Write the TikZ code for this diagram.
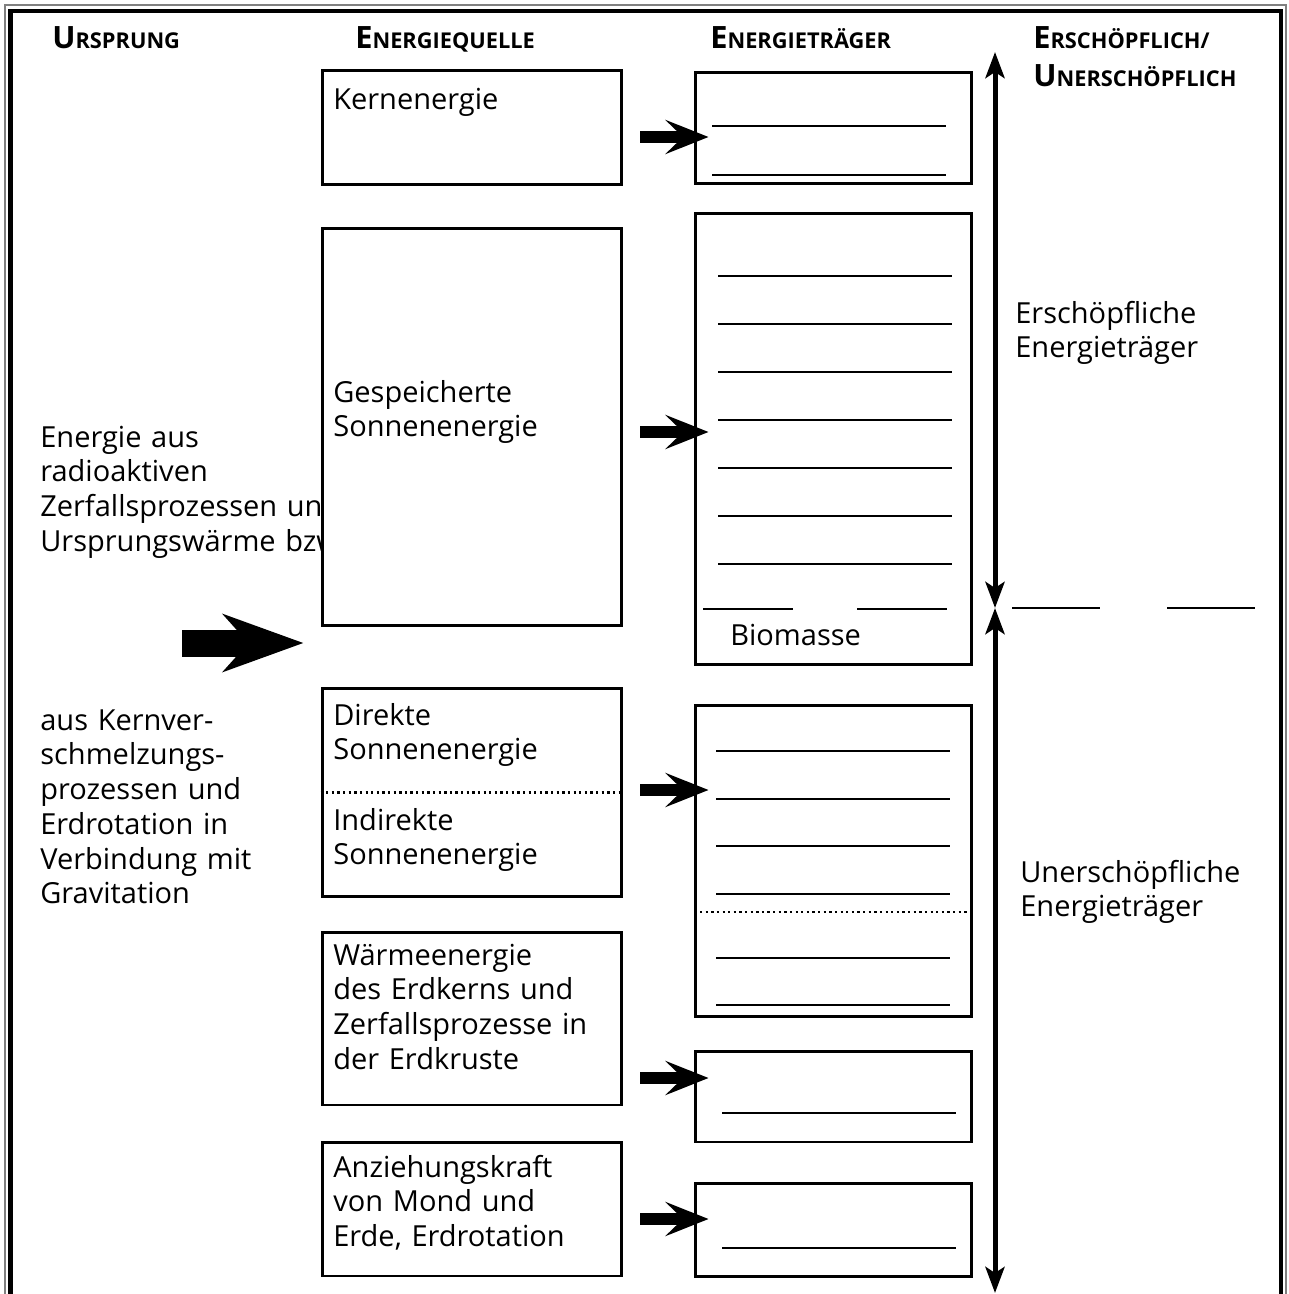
\documentclass[tikz,border=0pt]{standalone}
\usepackage{fontspec}
\setmainfont{Open Sans}
\usetikzlibrary{arrows.meta}
\newcommand\kopf[2]{{\fontsize{17.5}{22}\selectfont\bfseries #1}{\fontsize{12.4}{22}\selectfont\bfseries #2}}

\begin{document}
\begin{tikzpicture}[x=0.02cm,y=-0.02cm,
    txt/.style={anchor=base west,inner sep=0,align=left,text width=7.5cm,font=\fontsize{16.5}{19.8}\selectfont},
    hdr/.style={anchor=base west,inner sep=0,align=left,text width=5.5cm,font=\fontsize{12.4}{21.5}\selectfont},
    qbox/.style={draw,line width=1.7pt,fill=white,minimum width=6cm,inner sep=0},
    tbox/.style={draw,line width=1.7pt,fill=white,minimum width=5.54cm,inner sep=0},
    blank/.style={line width=1.4pt},
    punkte/.style={line width=1.3pt,dash pattern=on 1.3pt off 1.9pt},
    pfeil/.style={line width=0.23cm,-{Stealth[length=0.86cm,width=0.68cm,inset=0.35cm]}},
    grosspfeil/.style={line width=0.54cm,-{Stealth[length=1.6cm,width=1.14cm,inset=0.5cm]}},
    achse/.style={line width=0.1cm,arrows={Stealth[length=0.52cm,width=0.38cm,inset=0.12cm]-Stealth[length=0.52cm,width=0.38cm,inset=0.12cm]}}]
  \useasboundingbox (0,0) rectangle (1288,1294);

  % Rahmen
  \draw[line width=0.6pt,gray] (5,1294) -- (5,5) -- (1286,5) -- (1286,1294);
  \draw[line width=0.09cm] (10.5,1294) -- (10.5,11) -- (1281,11) -- (1281,1294);

  % Spaltenkoepfe
  \node[hdr] (ursprung) at (52,49) {\kopf{U}{RSPRUNG}};
  \node[hdr] (quelle) at (355,49) {\kopf{E}{NERGIEQUELLE}};
  \node[hdr] (traeger) at (710,49) {\kopf{E}{NERGIETRÄGER}};
  \node[hdr] (erschoepf) at (1033,49) {\kopf{E}{RSCHÖPFLICH/}\\\kopf{U}{NERSCHÖPFLICH}};

  % Ursprung
  \node[txt] (ursA) at (40,447) {Energie aus\\radioaktiven\\Zerfallsprozessen und\\Ursprungswärme bzw.};
  \node[txt] (ursB) at (40,730) {aus Kernver-\\schmelzungs-\\prozessen und\\Erdrotation in\\Verbindung mit\\Gravitation};
  \coordinate (gross) at (182,643);

  % Energiequellen
  \node[qbox,minimum height=2.3cm] (kern) at (472,127.5) {};
  \node[qbox,minimum height=7.96cm] (gesp) at (472,427) {};
  \node[qbox,minimum height=4.18cm] (sonne) at (472,792.5) {};
  \node[qbox,minimum height=3.46cm] (waerme) at (472,1018.5) {};
  \node[qbox,minimum height=2.68cm] (anz) at (472,1209) {};
  \draw[punkte] (sonne.west) -- (sonne.east);

  \node[txt] (kernT) at (333,110) {Kernenergie};
  \node[txt] (gespT) at (333,402) {Gespeicherte\\Sonnenenergie};
  \node[txt] (dirT) at (333,725) {Direkte\\Sonnenenergie};
  \node[txt] (indT) at (333,830) {Indirekte\\Sonnenenergie};
  \node[txt] (waermeT) at (333,965) {Wärmeenergie\\des Erdkerns und\\Zerfallsprozesse in\\der Erdkruste};
  \node[txt] (anzT) at (333,1177) {Anziehungskraft\\von Mond und\\Erde, Erdrotation};

  \draw[grosspfeil] (gross) -- ([xshift=-0.34cm]gross -| gesp.west);

  % Energietraeger
  \node[tbox,minimum height=2.24cm] (t1) at (833.5,128) {};
  \node[tbox,minimum height=9.04cm] (t2) at (833.5,439) {};
  \node[tbox,minimum height=6.24cm] (t3) at (833.5,861) {};
  \node[tbox,minimum height=1.82cm] (t4) at (833.5,1096.5) {};
  \node[tbox,minimum height=1.86cm] (t5) at (833.5,1229.5) {};

  \foreach \y in {126,175}
    \draw[blank] (712,\y) -- (946,\y);
  \foreach \y in {276,324,...,564}
    \draw[blank] (718,\y) -- (952,\y);
  \draw[blank] (703,609) -- (793,609);
  \draw[blank] (857,609) -- (947,609);
  \node[txt] (bioT) at (730,645) {Biomasse};
  \foreach \y in {751,799,846,894,958,1005}
    \draw[blank] (716,\y) -- (950,\y);
  \draw[punkte] (700,912) -- (975,912);
  \draw[blank] (722,1113) -- (956,1113);
  \draw[blank] (722,1248) -- (956,1248);

  % kleine Pfeile
  \coordinate (p1) at (640,137);
  \coordinate (p2) at (640,432);
  \coordinate (p3) at (640,790);
  \coordinate (p4) at (640,1078);
  \coordinate (p5) at (640,1219);
  \foreach \p/\t in {p1/t1,p2/t2,p3/t3,p4/t4,p5/t5}
    \draw[pfeil] (\p) -- ([xshift=0.3cm]\p -| \t.west);

  % erschoepflich / unerschoepflich
  \coordinate (oben) at (995,52);
  \coordinate (mitte) at (995,608);
  \coordinate (unten) at (995,1293);
  \draw[achse] (mitte) -- (oben);
  \draw[achse] (mitte) -- (unten);
  \draw[blank] (1012,608) -- (1100,608);
  \draw[blank] (1167,608) -- (1255,608);

  \node[txt] (erT) at (1015,323) {Erschöpfliche\\Energieträger};
  \node[txt] (unT) at (1020,882) {Unerschöpfliche\\Energieträger};
\end{tikzpicture}
\end{document}
